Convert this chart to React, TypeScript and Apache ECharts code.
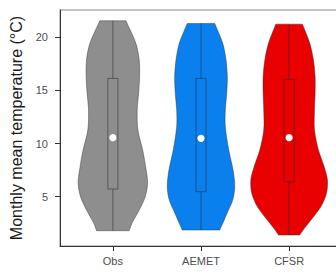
import React, { useEffect, useRef } from 'react';
import * as echarts from 'echarts';

const categories = ['Obs', 'AEMET', 'CFSR'];
const fillColors = ['#8e8e8e', '#0a80ef', '#e90000'];

// violin outline: temperature levels (top -> bottom) and half-widths (category units)
const obsLevels = [21.56, 19.43, 17.86, 16.28, 14.72, 13.15, 11.27, 9.39, 7.51, 6.26, 5.0, 3.74, 2.49, 1.8];
const obsHalfWidths = [0.148, 0.261, 0.299, 0.303, 0.292, 0.276, 0.284, 0.338, 0.378, 0.394, 0.367, 0.299, 0.216, 0.185];
const aemetLevels = [21.3, 19.43, 17.86, 16.28, 14.72, 13.15, 11.58, 9.39, 7.51, 5.94, 4.68, 3.43, 2.49, 1.86];
const aemetHalfWidths = [0.156, 0.247, 0.284, 0.299, 0.292, 0.276, 0.276, 0.315, 0.364, 0.383, 0.36, 0.295, 0.247, 0.213];
const cfsrLevels = [21.24, 19.43, 17.86, 16.28, 14.72, 13.15, 11.27, 9.39, 7.82, 6.57, 5.31, 4.05, 2.8, 1.86, 1.39];
const cfsrHalfWidths = [0.151, 0.235, 0.276, 0.295, 0.295, 0.288, 0.288, 0.333, 0.398, 0.435, 0.424, 0.36, 0.247, 0.159, 0.12];

const q1s = [5.72, 5.47, 6.41];
const medians = [10.55, 10.49, 10.55];
const q3s = [16.13, 16.13, 16.04];

const yTicks = [5, 10, 15, 20];
const xTicks = [1, 2, 3];

const levelSets = [obsLevels, aemetLevels, cfsrLevels];
const widthSets = [obsHalfWidths, aemetHalfWidths, cfsrHalfWidths];

export default function App() {
  const ref = useRef<HTMLDivElement>(null);
  useEffect(() => {
    if (!ref.current) return;
    const chart = echarts.init(ref.current, null, { renderer: 'svg' });
    const lineColor = 'rgba(45,45,45,0.55)';
    const option: any = {
      animation: false,
      grid: {
        left: 60,
        top: 10,
        width: 282,
        height: 236,
        show: true,
        borderColor: '#8a8a8a',
        borderWidth: 1,
        outerBoundsMode: 'none',
        containLabel: false,
      },
      xAxis: {
        type: 'value',
        min: 0.4,
        max: 3.6,
        splitLine: { show: false },
        axisLine: { show: true, onZero: false, lineStyle: { color: '#333', width: 1 } },
        axisTick: { show: true, customValues: xTicks, length: 5, lineStyle: { color: '#333' } },
        axisLabel: {
          customValues: xTicks,
          formatter: (v: number) => categories[Math.round(v) - 1] ?? '',
          color: '#4d4d4d',
          fontSize: 11,
          fontFamily: 'Liberation Sans, Arial, sans-serif',
          margin: 9,
        },
      },
      yAxis: {
        type: 'value',
        min: 0.36,
        max: 22.57,
        name: 'Monthly mean temperature (°C)',
        nameLocation: 'middle',
        nameGap: 34,
        nameTextStyle: { color: '#1a1a1a', fontSize: 16, fontFamily: 'Liberation Sans, Arial, sans-serif' },
        splitLine: { show: false },
        axisLine: { show: true, onZero: false, lineStyle: { color: '#333', width: 1 } },
        axisTick: { show: true, customValues: yTicks, length: 5, lineStyle: { color: '#333' } },
        axisLabel: {
          customValues: yTicks,
          color: '#4d4d4d',
          fontSize: 11,
          fontFamily: 'Liberation Sans, Arial, sans-serif',
          margin: 12,
        },
      },
      series: [
        {
          type: 'custom',
          coordinateSystem: 'cartesian2d',
          clip: false,
          data: [[1], [2], [3]],
          renderItem: (params: any, api: any) => {
            const i = params.dataIndex;
            const cx = i + 1;
            const lv = levelSets[i];
            const hw = widthSets[i];
            const n = lv.length;
            const left = lv.map((v, k) => api.coord([cx - hw[k], v]));
            const right = lv.map((v, k) => api.coord([cx + hw[k], v])).reverse();
            // duplicate end points to keep flat, sharp top and bottom edges
            const pts = [left[0], ...left, left[n - 1], right[0], ...right, right[n - 1]];
            const bw = 0.057;
            const tl = api.coord([cx - bw, q3s[i]]);
            const br = api.coord([cx + bw, q1s[i]]);
            const top = api.coord([cx, lv[0]]);
            const bot = api.coord([cx, lv[n - 1]]);
            const med = api.coord([cx, medians[i]]);
            return {
              type: 'group',
              children: [
                {
                  type: 'polygon',
                  shape: { points: pts, smooth: 0.3 },
                  style: { fill: fillColors[i], stroke: lineColor, lineWidth: 0.8 },
                },
                {
                  type: 'line',
                  shape: { x1: top[0], y1: top[1], x2: top[0], y2: tl[1] },
                  style: { stroke: lineColor, lineWidth: 1 },
                },
                {
                  type: 'line',
                  shape: { x1: bot[0], y1: br[1], x2: bot[0], y2: bot[1] },
                  style: { stroke: lineColor, lineWidth: 1 },
                },
                {
                  type: 'rect',
                  shape: { x: tl[0], y: tl[1], width: br[0] - tl[0], height: br[1] - tl[1] },
                  style: { fill: 'none', stroke: lineColor, lineWidth: 1 },
                },
                {
                  type: 'circle',
                  shape: { cx: med[0], cy: med[1], r: 3.6 },
                  style: { fill: '#ffffff', stroke: 'none' },
                },
              ],
            };
          },
        },
      ],
    };
    chart.setOption(option);
    return () => chart.dispose();
  }, []);
  return <div ref={ref} style={{ width: 336, height: 276, position: 'absolute', left: 0, top: 0 }} />;
}
